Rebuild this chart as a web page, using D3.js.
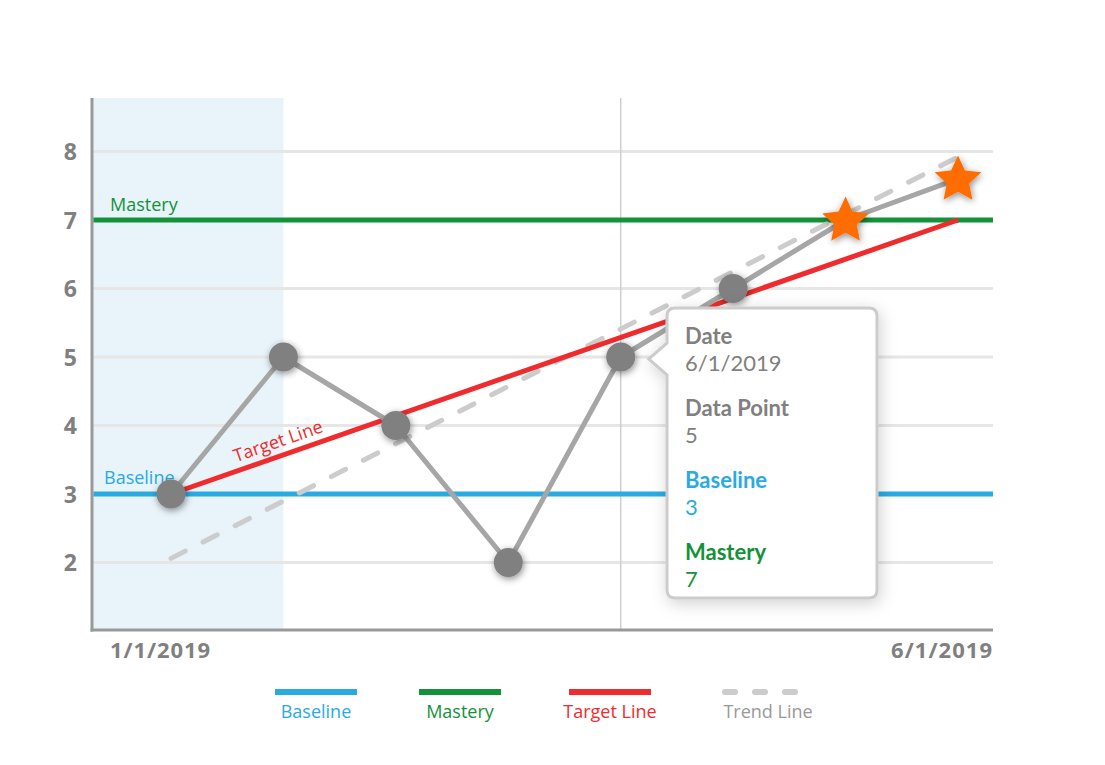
<!DOCTYPE html>
<html><head><meta charset="utf-8">
<script src="https://cdn.jsdelivr.net/npm/d3@7"></script>
<style>body{margin:0;background:#fff}svg{display:block}text{font-family:"Open Sans",sans-serif}text.tt{font-family:Lato,sans-serif}</style>
</head><body>
<script>
// ---- data ----
const pointIndex = [0, 1, 2, 3, 4, 5, 6, 7];
const dataValues = [3, 5, 4, 2, 5, 6, 7, 7.6];
const starFlags = [false, false, false, false, false, false, true, true];
const yTicks = [2, 3, 4, 5, 6, 7, 8];
const xTickLabels = ["1/1/2019", "6/1/2019"];
const baselineValue = 3;
const masteryValue = 7;
const targetStart = [0, 3];
const targetEnd = [7, 7];
const trendStart = [0, 2.06];
const trendEnd = [7, 7.92];
const baselinePhaseEnd = 1;
const hoverIndex = 4;
const tooltipLabels = ["Date", "Data Point", "Baseline", "Mastery"];
const tooltipValues = ["6/1/2019", "5", "3", "7"];
const legendLabels = ["Baseline", "Mastery", "Target Line", "Trend Line"];

const W = 1105, H = 765;
const C = {blue:"#29abe2", green:"#139239", red:"#ef2b2d", trend:"#cccccc", grid:"#e6e6e6", axis:"#999", pt:"#808080", ptLine:"#a6a6a6", star:"#ff6d00", text:"#808080"};

const svg = d3.select("body").append("svg").attr("width", W).attr("height", H);
const defs = svg.append("defs");
const f = defs.append("filter").attr("id","sh").attr("x","-50%").attr("y","-50%").attr("width","200%").attr("height","200%");
f.append("feDropShadow").attr("dx",1).attr("dy",2).attr("stdDeviation",3.5).attr("flood-color","#000").attr("flood-opacity",0.45);
const f2 = defs.append("filter").attr("id","sh2").attr("x","-30%").attr("y","-30%").attr("width","160%").attr("height","160%");
f2.append("feDropShadow").attr("dx",2).attr("dy",4).attr("stdDeviation",8).attr("flood-color","#000").attr("flood-opacity",0.18);

const x = d3.scaleLinear().domain([0, 7]).range([171, 958]);
const y = d3.scaleLinear().domain([3, 7]).range([494, 220]);
const xL = 92, xR = 993, yTop = 98, yBot = 630;

// baseline phase shading
svg.append("rect").attr("x", xL).attr("y", yTop).attr("width", x(baselinePhaseEnd) - xL).attr("height", yBot - yTop).attr("fill", "#e8f4fa");

// grid
svg.append("g").selectAll("line").data(yTicks).join("line")
  .attr("x1", xL).attr("x2", xR).attr("y1", d => y(d)).attr("y2", d => y(d))
  .attr("stroke", C.grid).attr("stroke-width", 3);

// y tick labels
svg.append("g").selectAll("text").data(yTicks).join("text")
  .attr("x", 77).attr("y", d => y(d) + 8.5).attr("text-anchor", "end")
  .attr("font-size", 23).attr("font-weight", 700).attr("fill", C.text).text(d => d);

// hover vertical line
svg.append("line").attr("x1", x(hoverIndex)).attr("x2", x(hoverIndex)).attr("y1", yTop).attr("y2", yBot)
  .attr("stroke", "#cfcfcf").attr("stroke-width", 1.5);

// axes
svg.append("line").attr("x1", xL).attr("x2", xL).attr("y1", yTop).attr("y2", yBot + 1.5).attr("stroke", C.axis).attr("stroke-width", 3);
svg.append("line").attr("x1", xL - 1.5).attr("x2", xR).attr("y1", yBot).attr("y2", yBot).attr("stroke", C.axis).attr("stroke-width", 3);

svg.append("text").attr("x", 110).attr("y", 658).attr("font-size", 22).attr("font-weight", 700).attr("fill", C.text).attr("textLength", 100).text(xTickLabels[0]);
svg.append("text").attr("x", 891).attr("y", 658).attr("font-size", 22).attr("font-weight", 700).attr("fill", C.text).attr("textLength", 101).text(xTickLabels[1]);

// baseline & mastery
svg.append("line").attr("x1", xL + 1.5).attr("x2", xR).attr("y1", y(baselineValue)).attr("y2", y(baselineValue)).attr("stroke", C.blue).attr("stroke-width", 5);
svg.append("line").attr("x1", xL + 1.5).attr("x2", xR).attr("y1", y(masteryValue)).attr("y2", y(masteryValue)).attr("stroke", C.green).attr("stroke-width", 5);
svg.append("text").attr("x", 104).attr("y", y(baselineValue) - 10).attr("font-size", 18).attr("fill", C.blue).text("Baseline");
svg.append("text").attr("x", 110).attr("y", y(masteryValue) - 9).attr("font-size", 18).attr("fill", C.green).text("Mastery");

// trend line
svg.append("line").attr("x1", x(trendStart[0])).attr("y1", y(trendStart[1])).attr("x2", x(trendEnd[0])).attr("y2", y(trendEnd[1]))
  .attr("stroke", C.trend).attr("stroke-width", 5).attr("stroke-linecap","round").attr("stroke-dasharray","16 20");

// target line
svg.append("line").attr("x1", x(targetStart[0])).attr("y1", y(targetStart[1])).attr("x2", x(targetEnd[0])).attr("y2", y(targetEnd[1]))
  .attr("stroke", C.red).attr("stroke-width", 5);
const ang = Math.atan2(y(targetEnd[1]) - y(targetStart[1]), x(targetEnd[0]) - x(targetStart[0])) * 180 / Math.PI;
const tlx = x(0.97), tly = y(3 + 0.97 * 4 / 7) - 9;
svg.append("text").attr("transform", `translate(${tlx},${tly}) rotate(${ang})`).attr("text-anchor","middle")
  .attr("font-size", 18).attr("fill", C.red).text("Target Line");

// data line
const line = d3.line().x((d, i) => x(pointIndex[i])).y(d => y(d));
svg.append("path").datum(dataValues).attr("d", line).attr("fill","none").attr("stroke", C.ptLine).attr("stroke-width", 5).attr("stroke-linejoin","round");

// points
const starType = {draw(ctx, size) {
  const R = Math.sqrt(size), r = R * 0.48;
  for (let k = 0; k < 10; k++) {
    const a = -Math.PI / 2 + k * Math.PI / 5, rr = k % 2 ? r : R;
    const px = rr * Math.cos(a), py = rr * Math.sin(a);
    k ? ctx.lineTo(px, py) : ctx.moveTo(px, py);
  }
  ctx.closePath();
}};
const star = d3.symbol().type(starType).size(24.5 * 24.5);
svg.append("g").selectAll("circle").data(dataValues.filter((d,i)=>!starFlags[i])).join("circle")
  .attr("cx", (d, i) => x(pointIndex[i])).attr("cy", d => y(d)).attr("r", 14.5)
  .attr("fill", C.pt).attr("filter","url(#sh)");
svg.append("g").selectAll("path").data(pointIndex.filter(i => starFlags[i])).join("path")
  .attr("d", star).attr("transform", i => `translate(${x(i)},${y(dataValues[i]) + 1})`)
  .attr("fill", C.star).attr("filter","url(#sh)");

// tooltip
const tx = 667, ty = 308, tw = 210, th = 290;
const tg = svg.append("g").attr("filter","url(#sh2)");
const px = x(hoverIndex), py = y(dataValues[hoverIndex]);
tg.append("path").attr("d", `M${tx+8},${ty} H${tx+tw-8} Q${tx+tw},${ty} ${tx+tw},${ty+8} V${ty+th-8} Q${tx+tw},${ty+th} ${tx+tw-8},${ty+th} H${tx+8} Q${tx},${ty+th} ${tx},${ty+th-8} V${py+18} L${px+28},${py+2} L${tx},${py-14} V${ty+8} Q${tx},${ty} ${tx+8},${ty} Z`)
  .attr("fill","#fff").attr("stroke","#cccccc").attr("stroke-width",3);
const tColors = [C.text, C.text, C.blue, C.green];
tooltipLabels.forEach((lab, i) => {
  const by = 344 + i * 72;
  svg.append("text").attr("class","tt").attr("x", 685).attr("y", by).attr("font-size", 22).attr("font-weight", 700).attr("fill", tColors[i]).text(lab);
  svg.append("text").attr("class","tt").attr("x", 685).attr("y", by + 27).attr("font-size", 22).attr("fill", tColors[i]).text(tooltipValues[i]);
});

// legend
const lg = [{c:C.blue},{c:C.green},{c:C.red},{c:C.trend, dash:true}];
const lcx = [316, 460, 610, 768];
const lcol = [C.blue, C.green, C.red, "#999"];
legendLabels.forEach((lab, i) => {
  const g = svg.append("g");
  if (lg[i].dash) {
    g.append("line").attr("x1", lcx[i]-43).attr("x2", lcx[i]+43).attr("y1", 692).attr("y2", 692)
      .attr("stroke", C.trend).attr("stroke-width", 6).attr("stroke-linecap","round").attr("stroke-dasharray","10 20");
  } else {
    g.append("line").attr("x1", lcx[i]-41).attr("x2", lcx[i]+41).attr("y1", 692).attr("y2", 692).attr("stroke", lg[i].c).attr("stroke-width", 6);
  }
  g.append("text").attr("x", lcx[i]).attr("y", 718).attr("text-anchor","middle").attr("font-size", 18).attr("fill", lcol[i]).text(lab);
});
</script>
</body></html>
